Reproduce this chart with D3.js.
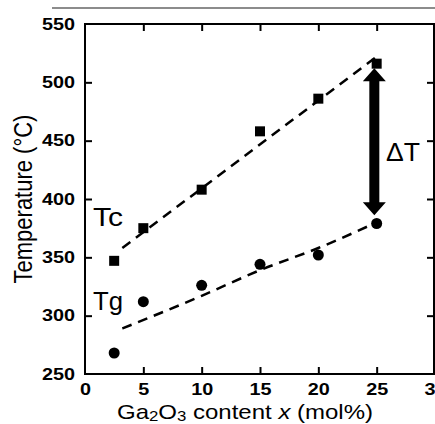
<!DOCTYPE html>
<html>
<head>
<meta charset="utf-8">
<script src="https://cdn.jsdelivr.net/npm/d3@7"></script>
<style>
  body { margin: 0; background: #fff; }
  svg text { font-family: "Liberation Sans", Arial, sans-serif; }
</style>
</head>
<body>
<svg id="chart" width="435" height="424"></svg>
<script>
// 数据
var contentX = [2.5, 5, 10, 15, 20, 25];
var tcValues = [347, 375, 408, 458, 486, 516];
var tgValues = [268, 312, 326, 344, 352, 379];
// 虚线（拟合线）上的点
var tcFitX = [3.2, 25];
var tcFitY = [358, 522];
var tgFitX = [3.2, 10, 15, 20, 25];
var tgFitY = [289, 317, 339, 358, 380];
var xTicks = [0, 5, 10, 15, 20, 25, 30];
var yTicks = [250, 300, 350, 400, 450, 500, 550];
// ΔT 箭头，两端温度
var arrowX = 24.8;
var arrowTop = 512, arrowBottom = 386;

// 原图的字是横向拉宽过的
var stretch = 1.2;

// 注意不能用 top 当变量名（window.top）
var svg = d3.select('#chart'),
  pLeft = 85, pRight = 435, pTop = 24, pBottom = 374;

var x = d3.scaleLinear().domain([0, 30]).range([pLeft, pRight]);
var y = d3.scaleLinear().domain([250, 550]).range([pBottom, pTop]);

// 顶部那条灰线
svg.append('line')
  .attr('x1', 52).attr('x2', 435).attr('y1', 8).attr('y2', 8)
  .attr('stroke', '#666').attr('stroke-width', 1.5);

// 坐标轴
var xAxis = svg.append('g').attr('transform', 'translate(0,' + pBottom + ')')
  .call(d3.axisBottom(x).tickValues(xTicks).tickSize(-7).tickPadding(9).tickSizeOuter(0));
var xTop = svg.append('g').attr('transform', 'translate(0,' + pTop + ')')
  .call(d3.axisTop(x).tickValues(xTicks.slice(1, -1)).tickSize(-7).tickFormat('').tickSizeOuter(0));
var yAxis = svg.append('g').attr('transform', 'translate(' + pLeft + ',0)')
  .call(d3.axisLeft(y).tickValues(yTicks).tickSize(-7).tickPadding(10).tickSizeOuter(0));
var yRight = svg.append('g').attr('transform', 'translate(' + (pRight - 1) + ',0)')
  .call(d3.axisRight(y).tickValues(yTicks.slice(1, -1)).tickSize(-7).tickFormat('').tickSizeOuter(0));

[xAxis, xTop, yAxis, yRight].forEach(function(g) {
  g.select('.domain').remove();
  g.selectAll('.tick line').attr('stroke', '#000').attr('stroke-width', 2);
});
// 端点的刻度不要画
xAxis.selectAll('.tick line').filter(function(d) { return d == 0 || d == 30; }).remove();
yAxis.selectAll('.tick line').filter(function(d) { return d == 250 || d == 550; }).remove();

svg.selectAll('.tick text')
  .attr('font-size', 16.5).attr('font-weight', 'bold').attr('fill', '#000')
  .attr('transform', 'scale(' + stretch + ',1)');
yAxis.selectAll('.tick text').attr('x', -10 / stretch);

// 边框
svg.append('rect')
  .attr('x', pLeft).attr('y', pTop).attr('width', pRight - pLeft - 1).attr('height', pBottom - pTop)
  .attr('fill', 'none').attr('stroke', '#000').attr('stroke-width', 2);

// 虚线
var line = d3.line().x(function(d) { return x(d[0]); }).y(function(d) { return y(d[1]); });
svg.append('path')
  .datum(d3.zip(tcFitX, tcFitY))
  .attr('d', line)
  .attr('fill', 'none').attr('stroke', '#000').attr('stroke-width', 2.5)
  .attr('stroke-dasharray', '10,7');
svg.append('path')
  .datum(d3.zip(tgFitX, tgFitY))
  .attr('d', line.curve(d3.curveMonotoneX))
  .attr('fill', 'none').attr('stroke', '#000').attr('stroke-width', 2.5)
  .attr('stroke-dasharray', '10,7');

// 方块 Tc
svg.selectAll('.sq').data(d3.zip(contentX, tcValues)).enter().append('rect')
  .attr('x', function(d) { return x(d[0]) - 5; })
  .attr('y', function(d) { return y(d[1]) - 5; })
  .attr('width', 10).attr('height', 10).attr('fill', '#000');

// 圆点 Tg
svg.selectAll('.dot').data(d3.zip(contentX, tgValues)).enter().append('circle')
  .attr('cx', function(d) { return x(d[0]); })
  .attr('cy', function(d) { return y(d[1]); })
  .attr('r', 5.5).attr('fill', '#000');

// 双向箭头
var ax = x(arrowX), at = y(arrowTop), ab = y(arrowBottom), hw = 11.5, hl = 13, sw = 5;
svg.append('path')
  .attr('d', 'M' + ax + ',' + at +
    'L' + (ax + hw) + ',' + (at + hl) + 'L' + (ax + sw) + ',' + (at + hl) +
    'L' + (ax + sw) + ',' + (ab - hl) + 'L' + (ax + hw) + ',' + (ab - hl) +
    'L' + ax + ',' + ab +
    'L' + (ax - hw) + ',' + (ab - hl) + 'L' + (ax - sw) + ',' + (ab - hl) +
    'L' + (ax - sw) + ',' + (at + hl) + 'L' + (ax - hw) + ',' + (at + hl) + 'Z')
  .attr('fill', '#000');

// 文字标签
function label(tx, ty, s, len) {
  svg.append('text').attr('x', tx).attr('y', ty).attr('font-size', 25)
    .attr('textLength', len).attr('lengthAdjust', 'spacingAndGlyphs').text(s);
}
label(386, 161, 'ΔT', 34);
label(93, 226, 'Tc', 30);
label(93, 310, 'Tg', 30);

// 轴标题
svg.append('text')
  .attr('transform', 'translate(32,' + ((pTop + pBottom) / 2) + ') scale(' + stretch + ',1) rotate(-90)')
  .attr('text-anchor', 'middle').attr('font-size', 22)
  .text('Temperature (°C)');

var xt = svg.append('text')
  .attr('transform', 'translate(245,419) scale(' + stretch + ',1)')
  .attr('text-anchor', 'middle').attr('font-size', 20);
xt.append('tspan').text('Ga');
xt.append('tspan').attr('font-size', 14).attr('dy', 2).text('2');
xt.append('tspan').attr('dy', -2).text('O');
xt.append('tspan').attr('font-size', 14).attr('dy', 2).text('3');
xt.append('tspan').attr('dy', -2).text(' content ');
xt.append('tspan').attr('font-style', 'italic').text('x');
xt.append('tspan').text(' (mol%)');
</script>
</body>
</html>
